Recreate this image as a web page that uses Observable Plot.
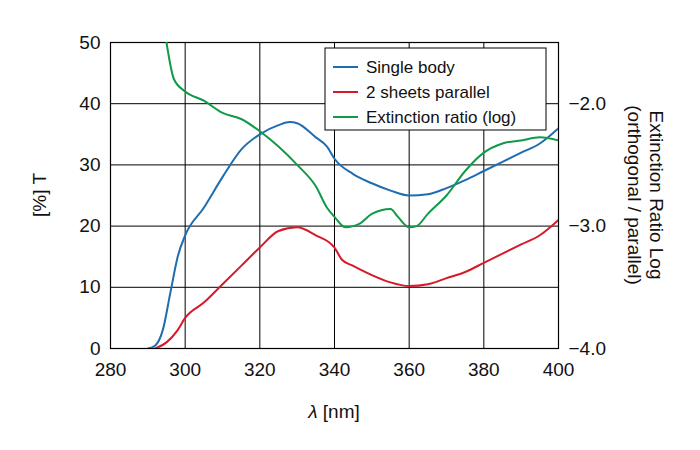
<!DOCTYPE html><html><head><meta charset="utf-8">
<script src="https://cdn.jsdelivr.net/npm/d3@7"></script>
<script src="https://cdn.jsdelivr.net/npm/@observablehq/plot@0.6"></script>
<style>body{margin:0;background:#fff;font-family:"Liberation Sans",Arial,sans-serif}
g[aria-label$="tick label"]{font-size:19px !important}</style></head><body><div id="c"></div><script>
const blueX=[290,292,294,296,298,300,305,310,315,320,325,328,330,335,338,340,345,350,355,360,365,370,375,380,385,390,395,400];
const blueY=[0,0.5,3,9,15,18.5,23,28,32.5,35,36.5,37,36.8,34.5,33,31,28.5,27,25.8,25,25.2,26.2,27.5,29,30.5,32,33.5,36];
const redX=[292,295,298,300,305,310,315,320,325,330,335,340,342,345,350,355,360,365,370,375,380,385,390,395,400];
const redY=[0,1,3,5,7.5,10.5,13.5,16.5,19.2,19.8,18.5,16.5,14.5,13.5,12,10.8,10.2,10.5,11.5,12.5,14,15.5,17,18.5,21];
const greenX=[295,297,300,305,310,315,320,325,330,335,338,340,343,345,347,350,355,357,360,362,365,370,375,380,385,390,395,400];
const greenLog=[-1.5,-1.8,-1.9,-1.975,-2.075,-2.125,-2.225,-2.35,-2.5,-2.675,-2.85,-2.925,-3.01,-3.0,-2.975,-2.9,-2.86,-2.925,-3.01,-3.0,-2.9,-2.75,-2.55,-2.4,-2.325,-2.3,-2.275,-2.3];
const xTicks=[280,300,320,340,360,380,400];
const yTicks=[0,10,20,30,40,50];
const rightTicks=[-4.0,-3.0,-2.0];
const series=[
 {name:"Single body",color:"#1f6db0",x:blueX,y:blueY},
 {name:"2 sheets parallel",color:"#d7192b",x:redX,y:redY},
 {name:"Extinction ratio (log)",color:"#109a48",x:greenX,y:greenLog.map(v=>(v+4)*20)}
];
const toLeft=v=>(v+4)*20;
const marks=[
 Plot.gridX(xTicks,{stroke:"#000",strokeOpacity:1,strokeWidth:1}),
 Plot.gridY(yTicks,{stroke:"#000",strokeOpacity:1,strokeWidth:1}),
 Plot.frame({stroke:"#000",strokeWidth:1.2}),
 Plot.axisX({ticks:xTicks,tickSize:0,tickPadding:14,label:null}),
 Plot.axisY({ticks:yTicks,tickSize:0,tickPadding:10,label:null}),
 Plot.axisY({anchor:"right",ticks:rightTicks.map(toLeft),tickSize:0,tickPadding:10,label:null,tickFormat:d=>(d/20-4).toFixed(1).replace("-","\u2212")})
];
for(const s of series){
 marks.push(Plot.line(s.x.map((x,i)=>({x,y:s.y[i]})),{x:"x",y:"y",stroke:s.color,strokeWidth:2,curve:"monotone-x",clip:true}));
}
const p=Plot.plot({width:700,height:450,marginLeft:110,marginRight:142,marginTop:42,marginBottom:102,
 x:{domain:[280,400]},y:{domain:[0,50]},style:{fontFamily:"Liberation Sans, Arial, sans-serif",fontSize:"18px",color:"#111"},marks});
document.getElementById("c").append(p);
const svg=d3.select(p);
svg.append("text").attr("transform","translate(46,195) rotate(-90)").attr("text-anchor","middle").attr("font-size",19).text("[%] T");
svg.append("text").attr("x",334).attr("y",418).attr("text-anchor","middle").attr("font-size",19).html('<tspan font-style="italic">λ</tspan> [nm]');
const rt=svg.append("text").attr("transform","translate(650,195) rotate(90)").attr("text-anchor","middle").attr("font-size",19);
rt.append("tspan").attr("x",0).attr("dy",0).text("Extinction Ratio Log");
rt.append("tspan").attr("x",0).attr("dy",22).text("(orthogonal / parallel)");
const lg=svg.append("g");
lg.append("rect").attr("x",325).attr("y",48).attr("width",221).attr("height",82).attr("fill","#fff").attr("stroke","#000");
series.forEach((s,i)=>{const y=67+i*25;
 lg.append("line").attr("x1",333).attr("x2",358).attr("y1",y).attr("y2",y).attr("stroke",s.color).attr("stroke-width",2);
 lg.append("text").attr("x",366).attr("y",y+6).attr("text-anchor","start").attr("font-size",17).text(s.name);});
</script></body></html>
